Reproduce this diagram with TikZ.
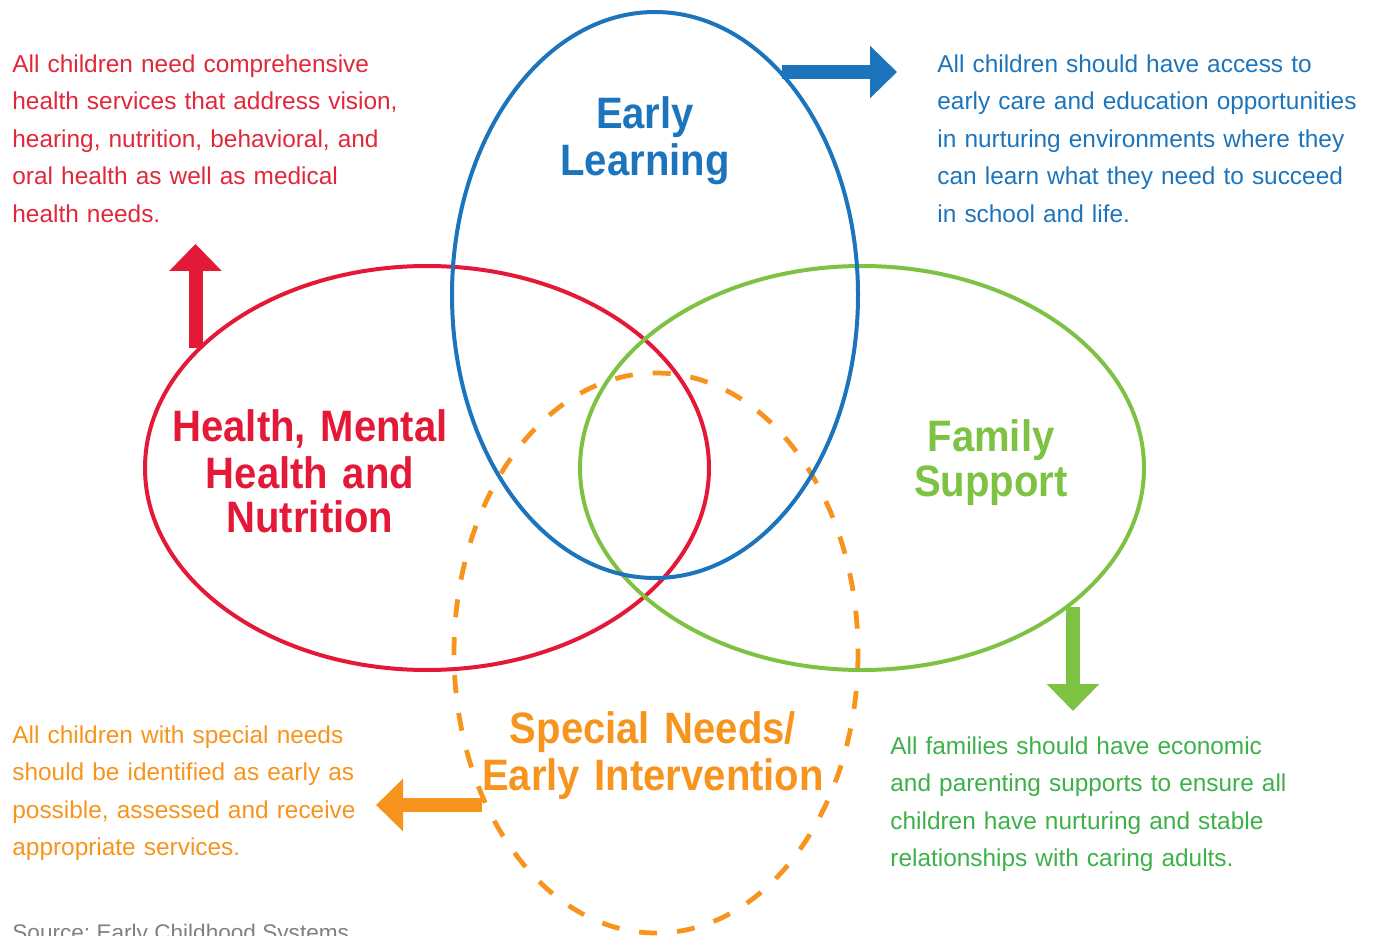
\documentclass[tikz,border=0pt]{standalone}
\usepackage{fontspec}
\setmainfont{Liberation Sans}
\newfontfamily\titlefont{Liberation Sans}[FakeStretch=0.91]
\usetikzlibrary{arrows.meta}
\definecolor{elblue}{HTML}{1C75BC}
\definecolor{elred}{HTML}{E31937}
\definecolor{txred}{HTML}{E0283A}
\definecolor{elgreen}{HTML}{7DC242}
\definecolor{txgreen}{HTML}{3DB049}
\definecolor{elorange}{HTML}{F7941D}
\definecolor{srcgray}{HTML}{808080}
\tikzset{
  ring/.style={line width=2pt},
  bodytext/.style={anchor=north west, inner sep=0pt, text width=260pt, align=left,
    font=\frenchspacing\fontsize{12.2pt}{18.75pt}\selectfont},
  titletext/.style={anchor=north, inner sep=0pt, text width=300pt, align=center,
    font=\titlefont\bfseries\fontsize{22pt}{22.2pt}\selectfont},
  bigarrow/.style={line width=7pt, -{Triangle[length=13.5pt,width=25.5pt]}},
}
\begin{document}
\begin{tikzpicture}[x=0.5pt,y=-0.5pt]
\useasboundingbox (0,0) rectangle (1382,936);
% ellipses
\draw[ring, elorange, line width=2.4pt, dash pattern=on 9pt off 10pt] (656,653) ellipse [x radius=202, y radius=280];
\draw[ring, elred] (427,468) ellipse [x radius=282, y radius=202];
\draw[ring, elgreen] (862,468) ellipse [x radius=282, y radius=202];
\draw[ring, elblue] (655,295) ellipse [x radius=203, y radius=283];
% titles
\node[titletext, text=elblue] (tEL) at (645,96.5) {\strut Early\\Learning};
\node[titletext, text=elred] (tHM) at (310,409) {\strut Health, Mental\\Health and\\Nutrition};
\node[titletext, text=elgreen] (tFS) at (991,419.5) {\strut Family\\Support};
\node[titletext, text=elorange] (tSN) at (653,711.5) {\strut Special Needs/\\Early Intervention};
% body texts
\node[bodytext, text=txred] (dHM) at (12,45.75) {\strut All children need comprehensive\\health services that address vision,\\hearing, nutrition, behavioral, and\\oral health as well as medical\\health needs.};
\node[bodytext, text=elblue] (dEL) at (937,45.75) {\strut All children should have access to\\early care and education opportunities\\in nurturing environments where they\\can learn what they need to succeed\\in school and life.};
\node[bodytext, text=elorange] (dSN) at (12,716.75) {\strut All children with special needs\\should be identified as early as\\possible, assessed and receive\\appropriate services.};
\node[bodytext, text=txgreen] (dFS) at (890,727.75) {\strut All families should have economic\\and parenting supports to ensure all\\children have nurturing and stable\\relationships with caring adults.};
\node[anchor=base west, inner sep=0pt, text=srcgray, font=\frenchspacing\fontsize{11.3pt}{14pt}\selectfont] (src) at (12,940) {Source: Early Childhood Systems};
% arrows
\coordinate (ab1) at (782,72);   \coordinate (ab2) at (897,72);
\coordinate (ar1) at (195.5,348); \coordinate (ar2) at (195.5,244);
\coordinate (ag1) at (1073,607);  \coordinate (ag2) at (1073,711);
\coordinate (ao1) at (482,805);   \coordinate (ao2) at (376,805);
\draw[bigarrow, elblue] (ab1) -- (ab2);
\draw[bigarrow, elred] (ar1) -- (ar2);
\draw[bigarrow, elgreen] (ag1) -- (ag2);
\draw[bigarrow, elorange] (ao1) -- (ao2);
\end{tikzpicture}
\end{document}
